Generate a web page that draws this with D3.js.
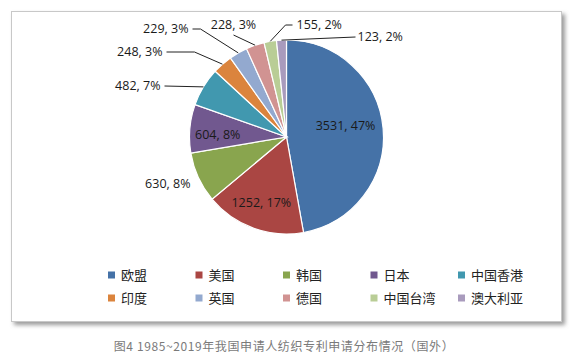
<!DOCTYPE html>
<html><head><meta charset="utf-8">
<script src="https://cdn.jsdelivr.net/npm/d3@7"></script>
<style>body{margin:0;background:#fff}svg{display:block}</style>
</head><body>
<svg id="c" width="576" height="359"></svg>
<script>
const categories = ["欧盟","美国","韩国","日本","中国香港","印度","英国","德国","中国台湾","澳大利亚"];
const values = [3531,1252,630,604,482,248,229,228,155,123];
const percents = ["47%","17%","8%","8%","7%","3%","3%","3%","2%","2%"];
const colors = ["#4572A7","#AA4643","#89A54E","#71588F","#4198AF","#DB843D","#93A9CF","#D19392","#B9CD96","#A99BBD"];
const caption = "图4 1985~2019年我国申请人纺织专利申请分布情况（国外）";

const svg = d3.select("#c");
const defs = svg.append("defs");
const f = defs.append("filter").attr("id","sh").attr("x","-5%").attr("y","-5%").attr("width","115%").attr("height","120%");
f.append("feGaussianBlur").attr("stdDeviation",2);

// frame with shadow
svg.append("rect").attr("x",14).attr("y",14).attr("width",551).attr("height",311).attr("fill","#9a9a9a").attr("filter","url(#sh)");
svg.append("rect").attr("x",11.5).attr("y",11.5).attr("width",550).attr("height",310).attr("fill","#fff").attr("stroke","#c8c8c8");

const cx = 286.5, cy = 137, R = 97;
const g = svg.append("g").attr("transform",`translate(${cx},${cy})`);
const pie = d3.pie().sort(null).value(d=>d.v);
const data = categories.map((c,i)=>({c, v:values[i], p:percents[i], col:colors[i]}));
const arcs = pie(data);
const arc = d3.arc().innerRadius(0).outerRadius(R);
g.selectAll("path").data(arcs).join("path").attr("d",arc).attr("fill",d=>d.data.col).attr("stroke","#fff").attr("stroke-width",1.2);

const font = "'Open Sans', sans-serif";
const fs = 12.5;
const mid = d => (d.startAngle+d.endAngle)/2;
const pt = (a,r) => [r*Math.sin(a), -r*Math.cos(a)];

// inside labels (first two and Japan)
const inside = {0:[0.62,-0.1],1:[0.72,0.02],3:[0.71,-0.05]};
Object.entries(inside).forEach(([i,[rf,da]])=>{
  const d = arcs[+i]; const [x,y] = pt(mid(d)+da, R*rf);
  g.append("text").attr("x",x).attr("y",y).attr("dy","0.35em").attr("text-anchor","middle")
   .attr("font-family",font).attr("font-size",fs).attr("fill","#1a1a1a").text(`${d.data.v}, ${d.data.p}`);
});

// outside labels: [label anchor dx,dy relative to center, anchor, elbow dx (null = none)]
const outside = {
  2:{lx:-96,ly:47,anchor:"end",line:null},
  4:{lx:-126,ly:-51,anchor:"end",line:{sx:-122,elbow:null}},
  5:{lx:-124,ly:-85,anchor:"end",line:{sx:-120,elbow:-92}},
  6:{lx:-98,ly:-108,anchor:"end",line:{sx:-94,elbow:-86}},
  7:{lx:-53,ly:-112,anchor:"middle",line:{sx:-53,sy:-102,elbow:null}},
  8:{lx:10,ly:-112,anchor:"start",line:{sx:6,elbow:-1}},
  9:{lx:71,ly:-100,anchor:"start",line:{sx:69,elbow:null}}
};
Object.entries(outside).forEach(([i,o])=>{
  const d = arcs[+i];
  g.append("text").attr("x",o.lx).attr("y",o.ly).attr("dy","0.35em").attr("text-anchor",o.anchor)
   .attr("font-family",font).attr("font-size",fs).attr("fill","#1a1a1a").text(`${d.data.v}, ${d.data.p}`);
  if(o.line){
    const [ex,ey] = pt(mid(d), R);
    const sy = o.line.sy!==undefined ? o.line.sy : o.ly;
    const pts = [[o.line.sx, sy]];
    if(o.line.elbow!==null) pts.push([o.line.elbow, sy]);
    pts.push([ex,ey]);
    g.append("path").attr("d",d3.line()(pts)).attr("fill","none").attr("stroke","#222").attr("stroke-width",1);
  }
});

// legend
const legend = svg.append("g");
const colX = d3.scalePoint().domain(d3.range(5)).range([108,458]);
const rowY = d3.scalePoint().domain([0,1]).range([275,298]);
data.forEach((d,i)=>{
  const x = colX(i%5), y = rowY(Math.floor(i/5));
  legend.append("rect").attr("x",x).attr("y",y-3.5).attr("width",7).attr("height",7).attr("fill",d.col);
  legend.append("text").attr("x",x+13).attr("y",y).attr("dy","0.36em").attr("font-family","'Noto Sans CJK SC', sans-serif")
   .attr("font-size",13).attr("fill","#222").text(d.c);
});

svg.append("text").attr("x",284).attr("y",347).attr("dy","0.35em").attr("text-anchor","middle")
  .attr("font-family","'Noto Sans CJK SC', sans-serif").attr("font-size",12).attr("letter-spacing",0.6)
  .attr("fill","#7a7a7a").text(caption);
</script>
</body></html>
